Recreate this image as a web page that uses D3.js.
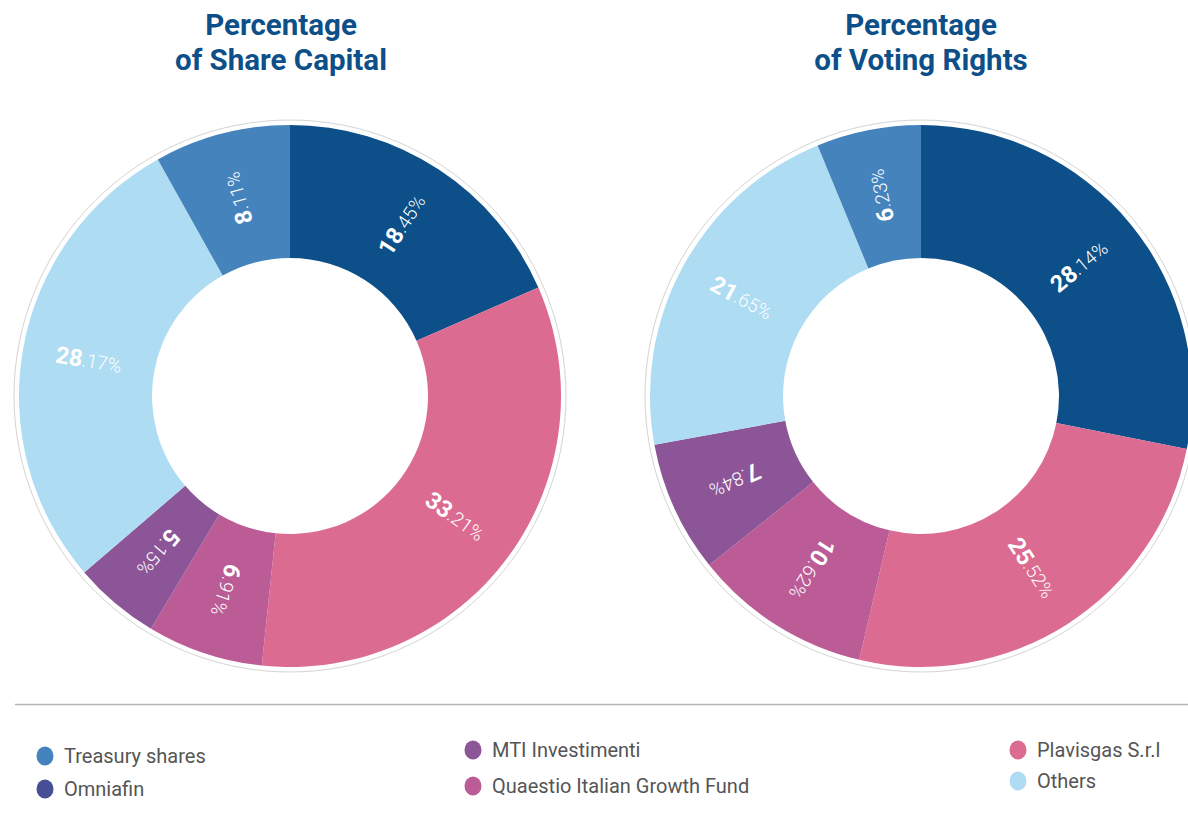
<!DOCTYPE html>
<html>
<head>
<meta charset="utf-8">
<script src="https://cdn.jsdelivr.net/npm/d3@7"></script>
<style>
  html, body { margin: 0; padding: 0; background: #fff; }
  svg { display: block; font-family: Roboto, "Noto Sans", sans-serif; }
</style>
</head>
<body>
<div id="chart"></div>
<script>
// slice order, clockwise from 12 o'clock
const categories = ["Omniafin", "Plavisgas S.r.l", "Quaestio Italian Growth Fund", "MTI Investimenti", "Others", "Treasury shares"];
const shareCapital = [18.45, 33.21, 6.91, 5.15, 28.17, 8.11];
const votingRights = [28.14, 25.52, 10.62, 7.84, 21.65, 6.23];
const chartTitles = [["Percentage", "of Share Capital"], ["Percentage", "of Voting Rights"]];
const legendColumns = [
  ["Treasury shares", "Omniafin"],
  ["MTI Investimenti", "Quaestio Italian Growth Fund"],
  ["Plavisgas S.r.l", "Others"]
];

const W = 1188, H = 829;

const sliceColor = d3.scaleOrdinal()
  .domain(categories)
  .range(["#0d4f88", "#dc6b91", "#bb5c96", "#8c5598", "#aedcf2", "#4583bd"]);

// legend dots use their own palette in the original
const legendColor = d3.scaleOrdinal()
  .domain(["Treasury shares", "Omniafin", "MTI Investimenti", "Quaestio Italian Growth Fund", "Plavisgas S.r.l", "Others"])
  .range(["#4583bd", "#464f96", "#8c5598", "#bb5c96", "#dc6b91", "#aedcf2"]);

const svg = d3.select("#chart")
  .append("svg")
  .attr("width", W)
  .attr("height", H);

const outerR = 271, innerR = 138;
const labelR = (outerR + innerR) / 2;

const pie = d3.pie().sort(null).value(d => d.value);
const arc = d3.arc().innerRadius(innerR).outerRadius(outerR);
const labelArc = d3.arc().innerRadius(labelR).outerRadius(labelR);

function drawDonut(values, cx, titleX, title) {
  const data = categories.map((c, i) => ({ name: c, value: values[i] }));

  // =====================
  // TITLE
  // =====================
  const t = svg.append("text")
    .attr("text-anchor", "middle")
    .style("fill", "#0d4f88")
    .style("font-weight", "700")
    .style("font-size", "29.5px");
  t.append("tspan").attr("x", titleX).attr("y", 35).text(title[0]);
  t.append("tspan").attr("x", titleX).attr("y", 70).text(title[1]);

  const g = svg.append("g")
    .attr("transform", `translate(${cx},396)`);

  // faint outline around the ring
  g.append("circle")
    .attr("r", outerR + 5)
    .attr("fill", "none")
    .attr("stroke", "#d4d4d4")
    .attr("stroke-width", 1);

  const arcs = pie(data);

  g.selectAll(".slice")
    .data(arcs)
    .enter()
    .append("path")
    .attr("class", "slice")
    .attr("d", arc)
    .attr("fill", d => sliceColor(d.data.name));

  // =====================
  // LABELS
  // =====================
  g.selectAll(".pct")
    .data(arcs)
    .enter()
    .append("text")
    .attr("class", "pct")
    .attr("transform", d => {
      const [x, y] = labelArc.centroid(d);
      const mid = (d.startAngle + d.endAngle) / 2 * 180 / Math.PI;
      let rot = mid - 90;
      if (mid > 255 && mid < 320) rot -= 180;
      return `translate(${x},${y}) rotate(${rot})`;
    })
    .attr("text-anchor", "middle")
    .attr("dominant-baseline", "central")
    .style("fill", "#fff")
    .each(function(d) {
      const parts = d.data.value.toFixed(2).split(".");
      const el = d3.select(this);
      el.append("tspan")
        .style("font-weight", "700")
        .style("font-size", "23.5px")
        .text(parts[0]);
      el.append("tspan")
        .style("font-weight", "300")
        .style("font-size", "19px")
        .text("." + parts[1] + "%");
    });
}

drawDonut(shareCapital, 290, 281, chartTitles[0]);
drawDonut(votingRights, 921, 921, chartTitles[1]);

// =====================
// SEPARATOR
// =====================
svg.append("line")
  .attr("x1", 15)
  .attr("x2", W)
  .attr("y1", 704.5)
  .attr("y2", 704.5)
  .attr("stroke", "#b3b3b3")
  .attr("stroke-width", 1.5);

// =====================
// LEGEND
// =====================
const colX = [45, 473, 1018];
const colY = [[756, 789], [750, 786], [750, 781]];

legendColumns.forEach((col, ci) => {
  col.forEach((name, ri) => {
    const item = svg.append("g")
      .attr("transform", `translate(${colX[ci]},${colY[ci][ri]})`);
    item.append("ellipse")
      .attr("rx", 8.5)
      .attr("ry", 9.5)
      .attr("fill", legendColor(name));
    item.append("text")
      .attr("x", 19)
      .attr("y", 7)
      .style("fill", "#555")
      .style("font-size", "20px")
      .text(name);
  });
});
</script>
</body>
</html>
